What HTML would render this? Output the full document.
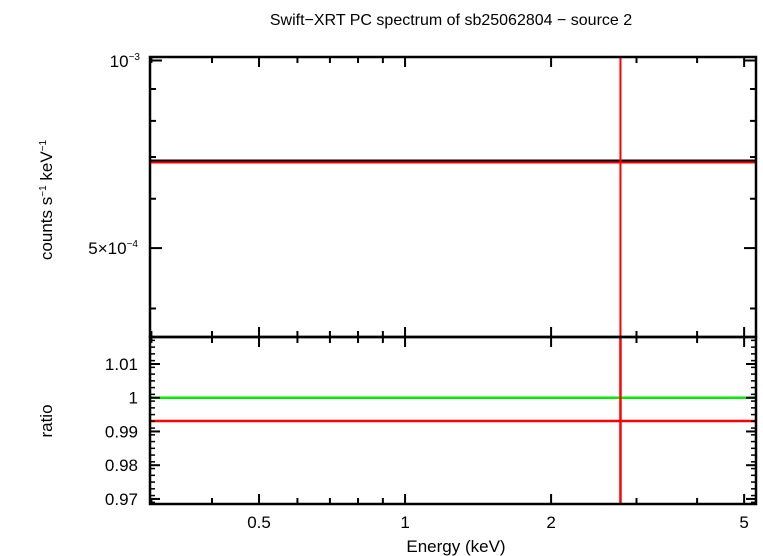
<!DOCTYPE html>
<html><head><meta charset="utf-8"><style>
body{margin:0;background:#fff}
svg{display:block;font-family:"Liberation Sans",sans-serif}
</style></head><body>
<svg id="chart" width="763" height="556" viewBox="0 0 763 556">
<text x="451" y="25" font-size="16" text-anchor="middle">Swift−XRT PC spectrum of sb25062804 − source 2</text>
<g id="topg"></g>
<g id="botg"></g>
<text x="456" y="552" font-size="17" text-anchor="middle">Energy (keV)</text>
<text transform="translate(52,200) rotate(-90)" font-size="17" text-anchor="middle">counts s<tspan font-size="10" dy="-6">−1</tspan><tspan dy="6"> keV</tspan><tspan font-size="10" dy="-6">−1</tspan></text>
<text transform="translate(52,421) rotate(-90)" font-size="17" text-anchor="middle">ratio</text>
</svg>
<script>
const xTicksMajor=[0.5,1,2,5];
const xTickLabels=["0.5","1","2","5"];
const xTicksMinor=[0.3,0.4,0.6,0.7,0.8,0.9,3,4];
const dataEnergy=[2.78];
const dataCounts=[6.86e-4];
const modelCounts=[6.91e-4];
const ratioValues=[0.9931];
const ratioRef=[1.0];
const ratioTicks=[0.97,0.98,0.99,1,1.01];
const ratioLabels=["0.97","0.98","0.99","1","1.01"];
const topTicks=[1e-3,5e-4];
const topMinor=[9e-4,8e-4,7e-4,6e-4,4e-4];
const NS="http://www.w3.org/2000/svg";
const X0=150,X1=756,T0=57,T1=337,B0=337,B1=504;
const xmin=0.298,xmax=5.29;
function x(e){return X0+(Math.log10(e)-Math.log10(xmin))/(Math.log10(xmax)-Math.log10(xmin))*(X1-X0);}
const ytmin=3.6e-4,ytmax=1.013e-3;
function yt(v){return T1-(Math.log10(v)-Math.log10(ytmin))/(Math.log10(ytmax)-Math.log10(ytmin))*(T1-T0);}
const rmin=0.9685,rmax=1.018;
function yr(v){return B1-(v-rmin)/(rmax-rmin)*(B1-B0);}
function el(p,t,a){const e=document.createElementNS(NS,t);for(const k in a)e.setAttribute(k,a[k]);p.appendChild(e);return e;}
const topG=document.getElementById('topg'),botG=document.getElementById('botg'),svgEl=document.getElementById('chart');
function line(p,x1,y1,x2,y2,c,w,n){const l=el(p,'line',{x1,y1,x2,y2,stroke:c,'stroke-width':w});

return l;}
modelCounts.forEach((v,i)=>{line(topG,X0,yt(v),X1,yt(v),'#000',2,'model-line');});
dataCounts.forEach((v,i)=>{line(topG,X0,yt(v),X1,yt(v),'#f00',2,'data-line');
line(topG,x(dataEnergy[i]),T0,x(dataEnergy[i]),T1,'#f00',2,'data-error-bar');});
ratioRef.forEach(v=>{line(botG,X0,yr(v),X1,yr(v),'#0e0',2.5,'ratio-reference-line');});
ratioValues.forEach((v,i)=>{line(botG,X0,yr(v),X1,yr(v),'#f00',2.5,'ratio-line');
line(botG,x(dataEnergy[i]),B0,x(dataEnergy[i]),B1,'#f00',2.5,'ratio-error-bar');});
[[T0,T1],[B0,B1]].forEach(([a,b],k)=>{const r=el(svgEl,'rect',{x:X0,y:a,width:X1-X0,height:b-a,fill:'none',stroke:'#000','stroke-width':2.5});

});
xTicksMajor.concat(xTicksMinor).forEach((e,i)=>{const L=i<xTicksMajor.length?10:6;
[[T0,1],[T1,-1],[B0,1],[B1,-1]].forEach(([yy,d])=>line(svgEl,x(e),yy,x(e),yy+d*L,'#000',2,'x-tick'));});
xTickLabels.forEach((s,i)=>{const t=el(svgEl,'text',{x:x(xTicksMajor[i]),y:528,'font-size':17,'text-anchor':'middle'});t.textContent=s;

});
topTicks.forEach(v=>{line(svgEl,X0,yt(v),X0+12,yt(v),'#000',2,'y-tick');line(svgEl,X1,yt(v),X1-12,yt(v),'#000',2,'y-tick');});
topMinor.forEach(v=>{line(svgEl,X0,yt(v),X0+6,yt(v),'#000',2,'y-minor-tick');line(svgEl,X1,yt(v),X1-6,yt(v),'#000',2,'y-minor-tick');});
let t1=el(svgEl,'text',{x:140,y:67,'font-size':17,'text-anchor':'end'});t1.innerHTML='10<tspan font-size="10" dy="-7">−3</tspan>';


let t2=el(svgEl,'text',{x:138,y:254,'font-size':17,'text-anchor':'end'});t2.innerHTML='5×10<tspan font-size="10" dy="-7">−4</tspan>';


for(let v=0.969;v<1.018;v+=0.002){const yy=yr(v);line(svgEl,X0,yy,X0+5,yy,'#000',1.5,'ratio-minor-tick');line(svgEl,X1,yy,X1-5,yy,'#000',1.5,'ratio-minor-tick');}
ratioTicks.forEach((v,i)=>{line(svgEl,X0,yr(v),X0+10,yr(v),'#000',2,'ratio-tick');line(svgEl,X1,yr(v),X1-10,yr(v),'#000',2,'ratio-tick');
const t=el(svgEl,'text',{x:138,y:yr(v)+6,'font-size':17,'text-anchor':'end'});t.textContent=ratioLabels[i];

});
</script>
</body></html>
